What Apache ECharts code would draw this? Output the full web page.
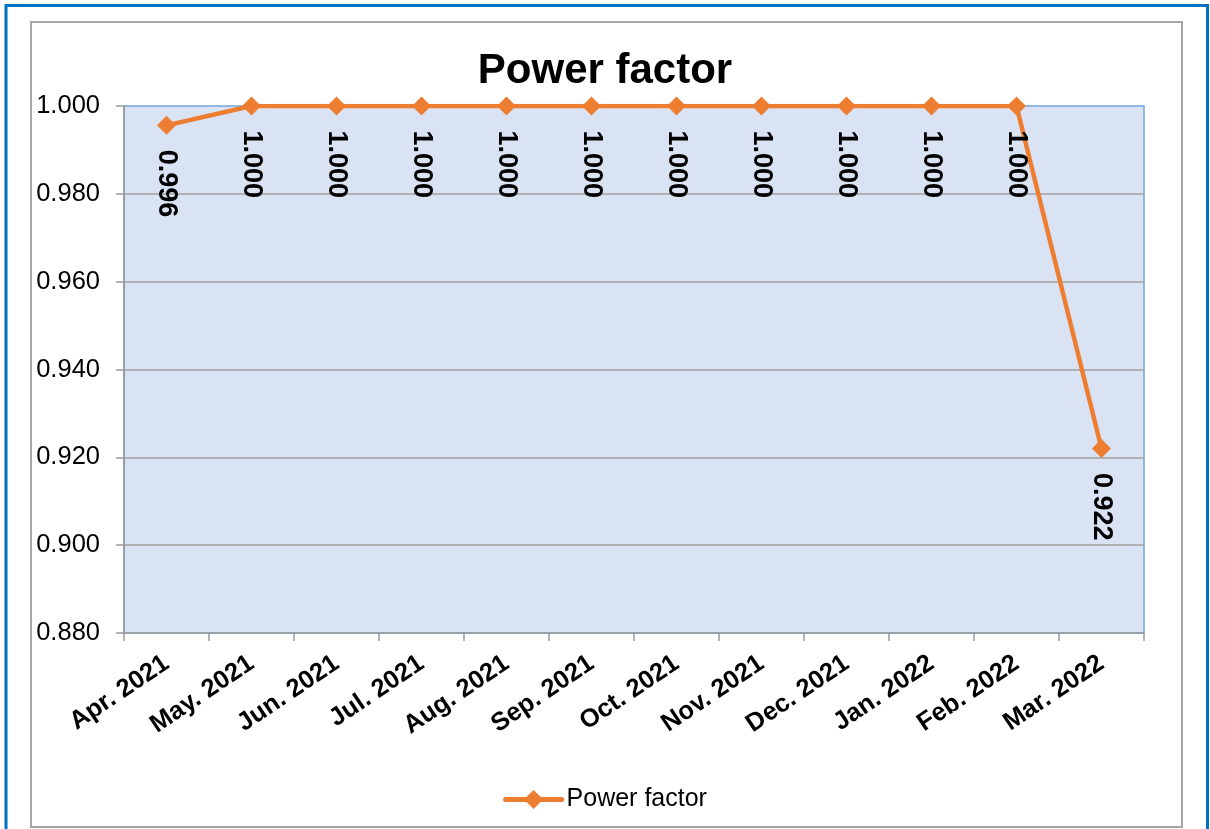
<!DOCTYPE html>
<html>
<head>
<meta charset="utf-8">
<script src="https://cdn.jsdelivr.net/npm/echarts@6/dist/echarts.min.js"></script>
<style>
html,body{margin:0;padding:0;background:#fff;}
#c{width:1210px;height:829px;}
</style>
</head>
<body>
<div id="c"></div>
<script>
const categories = ['Apr. 2021','May. 2021','Jun. 2021','Jul. 2021','Aug. 2021','Sep. 2021','Oct. 2021','Nov. 2021','Dec. 2021','Jan. 2022','Feb. 2022','Mar. 2022'];
const powerFactor = [0.9956, 1.000, 1.000, 1.000, 1.000, 1.000, 1.000, 1.000, 1.000, 1.000, 1.000, 0.922];
const seriesName = 'Power factor';
const chartTitle = 'Power factor';

const FONT = '"Liberation Sans", Arial, sans-serif';
const chart = echarts.init(document.getElementById('c'), null, {renderer:'canvas'});
chart.setOption({
  animation: false,
  backgroundColor: '#ffffff',
  graphic: [
    {type:'rect', shape:{x:6, y:5.5, width:1201.5, height:900}, style:{fill:'none', stroke:'#0070C0', lineWidth:3}, z:-10, silent:true},
    {type:'rect', shape:{x:31, y:22, width:1151, height:805}, style:{fill:'none', stroke:'#A6A6A6', lineWidth:2}, z:-10, silent:true}
  ],
  title: {
    text: chartTitle,
    left: 'center',
    top: 45,
    textStyle: {fontFamily: FONT, fontSize: 42, fontWeight: 'bold', color: '#000'}
  },
  legend: {
    left: 'center',
    top: 782,
    itemWidth: 56,
    itemHeight: 24,
    itemGap: 8,
    lineStyle: {width: 5, cap: 'round'},
    textStyle: {fontFamily: FONT, fontSize: 25, color: '#000'},
    data: [seriesName]
  },
  grid: {
    left: 124, right: 66, top: 106, bottom: 196,
    show: true,
    backgroundColor: '#DAE3F3',
    borderColor: '#73A5DA',
    borderWidth: 1.5
  },
  xAxis: {
    type: 'category',
    data: categories,
    boundaryGap: true,
    axisLine: {lineStyle: {color: '#9A9A9A', width: 1.5}},
    axisTick: {show: true, length: 8, lineStyle: {color: '#9A9A9A', width: 1.5}},
    axisLabel: {
      interval: 0, rotate: 34, margin: 28,
      fontFamily: FONT, fontSize: 25.5, fontWeight: 'bold', color: '#000'
    },
    splitLine: {show: false}
  },
  yAxis: {
    type: 'value',
    min: 0.88, max: 1.0, interval: 0.02,
    axisLine: {show: true, lineStyle: {color: '#9A9A9A', width: 1.5}},
    axisTick: {show: true, length: 8, lineStyle: {color: '#9A9A9A', width: 1.5}},
    axisLabel: {
      margin: 24,
      fontFamily: FONT, fontSize: 25.5, color: '#000',
      formatter: v => v.toFixed(3)
    },
    splitLine: {show: true, showMinLine: false, showMaxLine: false, lineStyle: {color: '#A0A0A0', width: 1.5}}
  },
  series: [{
    name: seriesName,
    type: 'line',
    data: powerFactor,
    symbol: 'diamond',
    symbolSize: 19,
    lineStyle: {color: '#ED7D31', width: 4.5},
    itemStyle: {color: '#ED7D31'},
    label: {
      show: true,
      position: 'bottom',
      distance: 15,
      rotate: -90,
      align: 'left',
      verticalAlign: 'middle',
      fontFamily: FONT, fontSize: 27, fontWeight: 'bold', color: '#000',
      formatter: p => p.value.toFixed(3)
    },
    z: 3
  }]
});
</script>
</body>
</html>
